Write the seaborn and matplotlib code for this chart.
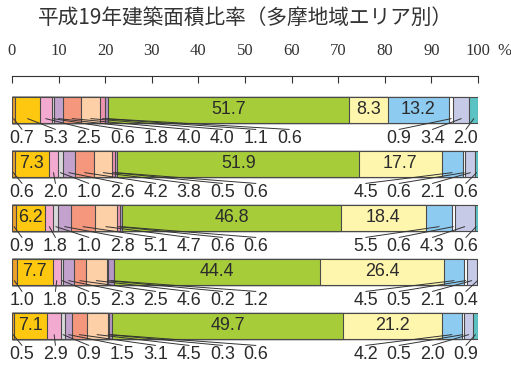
import matplotlib
matplotlib.use("Agg")
import matplotlib.pyplot as plt
import numpy as np
import pandas as pd
import seaborn as sns

# Share of building floor area (%) per area, 15 use categories left to right
area1 = [0.7, 5.3, 2.5, 0.6, 1.8, 4.0, 4.0, 1.1, 0.6, 51.7, 8.3, 13.2, 0.9, 3.4, 2.0]
area2 = [0.6, 7.3, 2.0, 1.0, 2.6, 4.2, 3.8, 0.5, 0.6, 51.9, 17.7, 4.5, 0.6, 2.1, 0.6]
area3 = [0.9, 6.2, 1.8, 1.0, 2.8, 5.1, 4.7, 0.6, 0.6, 46.8, 18.4, 5.5, 0.6, 4.3, 0.6]
area4 = [1.0, 7.7, 1.8, 0.5, 2.3, 2.5, 4.6, 0.2, 1.2, 44.4, 26.4, 4.5, 0.5, 2.1, 0.4]
area5 = [0.5, 7.1, 2.9, 0.9, 1.5, 3.1, 4.5, 0.3, 0.6, 49.7, 21.2, 4.2, 0.5, 2.0, 0.9]
areas = ["1", "2", "3", "4", "5"]
ticks = [0, 10, 20, 30, 40, 50, 60, 70, 80, 90, 100]
title = "平成19年建築面積比率（多摩地域エリア別）"

colors = ["#EDA12B", "#FDC80F", "#F3AAD0", "#D9D9DC", "#C3A2CD",
          "#F4977C", "#FDD0A8", "#EE93AE", "#B797C6", "#A6CC3A",
          "#FFF6AE", "#8ECBF0", "#FFFFFF", "#C7CAE7", "#5CC3C5"]
CENTER = 9  # index of the large central segment

rows = [area1, area2, area3, area4, area5]
vals = np.array(rows)
ends = np.cumsum(vals, axis=1)

sns.set_theme(style="white")
plt.rcParams["font.family"] = ["Liberation Sans", "DejaVu Sans"]

W, H = 511, 365
fig = plt.figure(figsize=(W / 100, H / 100), dpi=100)
top_px = 76
ax = fig.add_axes([12 / W, 0, 466 / W, (H - top_px) / H])

edge = "#4a4a4a"
# stacked bars: draw cumulative totals from the longest to the shortest
for k in range(vals.shape[1] - 1, -1, -1):
    df = pd.DataFrame({"area": areas, "end": ends[:, k]})
    sns.barplot(data=df, x="end", y="area", order=areas, orient="h",
                color=colors[k], saturation=1, width=0.48,
                edgecolor=edge, linewidth=0.8, ax=ax)

txt = "#2b2b2b"
fs = 12.9
step = 7.17
for i, row in enumerate(rows):
    starts = ends[i] - vals[i]
    mids = starts + vals[i] / 2
    left = [k for k in range(CENTER) if row[k] < 6]
    right = [k for k in range(CENTER + 1, len(row)) if row[k] < 6]
    for k, v in enumerate(row):
        if v >= 6:
            ax.text(mids[k], i, f"{v:.1f}", ha="center", va="center",
                    fontsize=fs, color=txt)
    for j, k in enumerate(left):
        xl = 2.15 + step * j
        ax.plot([mids[k], xl], [i + 0.16, i + 0.36], color="#333333", lw=0.7)
        ax.text(xl, i + 0.52, f"{row[k]:.1f}", ha="center", va="center",
                fontsize=fs, color=txt)
    n = len(right)
    for j, k in enumerate(right):
        xl = 97.4 - step * (n - 1 - j)
        ax.plot([mids[k], xl], [i + 0.16, i + 0.36], color="#333333", lw=0.7)
        ax.text(xl, i + 0.52, f"{row[k]:.1f}", ha="center", va="center",
                fontsize=fs, color=txt)

ax.set_xlim(0, 100)
ax.set_ylim((H - 110) / 54, (top_px - 110) / 54)
ax.set_xlabel("")
ax.set_ylabel("")
ax.set_yticks([])
ax.xaxis.tick_top()
ax.set_xticks(ticks)
ax.set_xticklabels([str(t) for t in ticks], family="Liberation Serif",
                   fontsize=12, color="#333333")
ax.tick_params(axis="x", direction="in", length=5, width=0.8,
               color="#333333", pad=12)
for s in ["left", "right", "bottom"]:
    ax.spines[s].set_visible(False)
ax.spines["top"].set_color("#333333")
ax.spines["top"].set_linewidth(0.8)
ax.set_facecolor("white")

fig.text(504 / W, 1 - 51 / H, "%", ha="center", va="center",
         family="Liberation Serif", fontsize=12, color="#333333")
fig.text(245 / W, 1 - 18 / H, title, ha="center", va="center",
         family=["Noto Sans CJK JP", "DejaVu Sans"], fontsize=14.9,
         color="#333333")

fig.savefig("out.png", dpi=100, facecolor="white")
